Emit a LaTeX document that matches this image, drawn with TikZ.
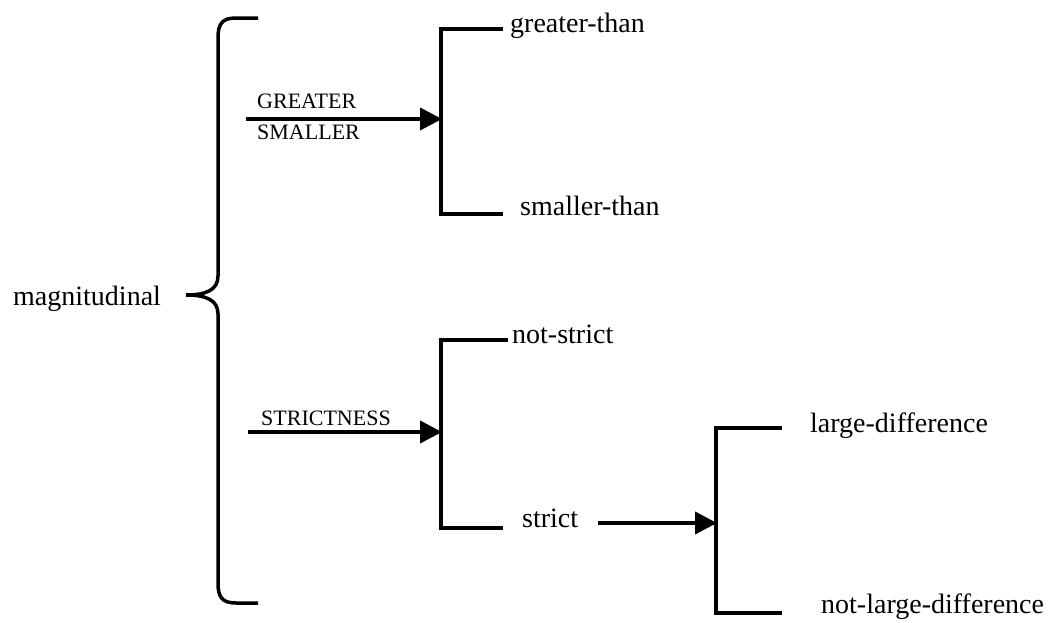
\documentclass[tikz,border=0pt]{standalone}
\usepackage{fontspec}
\setmainfont{Liberation Serif}
\usetikzlibrary{arrows.meta}
\tikzset{
  lbl/.style={inner sep=0pt, anchor=base west, font=\fontsize{28}{32}\selectfont},
  caps/.style={inner sep=0pt, anchor=base west, font=\fontsize{22}{26}\selectfont},
  bracket/.style={line width=4pt},
  brace/.style={line width=3.5pt},
  arr/.style={line width=4pt, -{Triangle[length=22pt,width=22pt]}, shorten >=-1pt}
}
\begin{document}
\begin{tikzpicture}[x=1pt,y=-1pt]
\useasboundingbox (0,0) rectangle (1050,622);
% texts
\node[lbl] (mag) at (13,305) {magnitudinal};
\node[lbl] (gt) at (510,32) {greater-than};
\node[lbl] (st) at (520,215) {smaller-than};
\node[lbl] (ns) at (512,343) {not-strict};
\node[lbl] (s) at (522,527) {strict};
\node[lbl] (ld) at (810,432) {large-difference};
\node[lbl] (nld) at (821,613) {not-large-difference};
\node[caps] (greater) at (257,108) {GREATER};
\node[caps] (smaller) at (257,139) {SMALLER};
\node[caps] (strictness) at (261,425) {STRICTNESS};
% brace
\draw[brace] (258,18) -- (236,18) .. controls (222,18) and (218,24) .. (218,38)
  -- (218,276) .. controls (218,290) and (206,295) .. (186,295)
  .. controls (206,295) and (218,300) .. (218,314)
  -- (218,583) .. controls (218,597) and (222,603) .. (236,603) -- (258,603);
% bracket 1
\coordinate (b1t) at (503,29);
\coordinate (b1b) at (503,214);
\coordinate (b1m) at (441,119);
\draw[bracket] (b1t) -- (441,29) -- (441,214) -- (b1b);
\coordinate (a1s) at (246,119);
\draw[arr] (a1s) -- (b1m);
% bracket 2
\coordinate (b2t) at (508,340);
\coordinate (b2b) at (503,528);
\coordinate (b2m) at (441,432);
\draw[bracket] (b2t) -- (441,340) -- (441,528) -- (b2b);
\coordinate (a2s) at (248,432);
\draw[arr] (a2s) -- (b2m);
% bracket 3
\coordinate (b3t) at (782,428);
\coordinate (b3b) at (782,613);
\coordinate (b3m) at (716,523);
\draw[bracket] (b3t) -- (716,428) -- (716,613) -- (b3b);
\coordinate (a3s) at (598,523);
\draw[arr] (a3s) -- (b3m);
\end{tikzpicture}
\end{document}
